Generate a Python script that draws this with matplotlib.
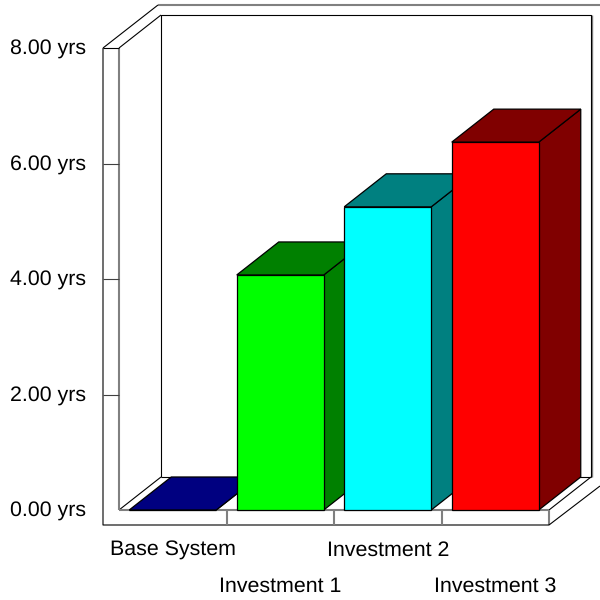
import matplotlib
matplotlib.use('Agg')
import matplotlib.pyplot as plt
from matplotlib.patches import Polygon

categories = ['Base System', 'Investment 1', 'Investment 2', 'Investment 3']
values = [0.0, 4.07, 5.25, 6.37]
front_colors = ['#000080', '#00ff00', '#00ffff', '#ff0000']
shade_colors = ['#000080', '#008000', '#008080', '#800000']
y_ticks = [0, 2, 4, 6, 8]

PX_X = 107.5   # pixels per category
PX_Y = 57.75   # pixels per year
DX = 42 / PX_X
DY = 33 / PX_Y
BAR_W = 87 / PX_X
GREY = '#808080'

plt.rcParams['font.family'] = ['Liberation Sans', 'DejaVu Sans']
plt.rcParams['text.hinting'] = 'no_hinting'

fig = plt.figure(figsize=(6, 6), dpi=100)
ax = fig.add_axes([0, 0, 1, 1])
ax.set_xlim(-119 / PX_X, 481 / PX_X)
ax.set_ylim(-90 / PX_Y, 510 / PX_Y)
ax.axis('off')


def px(dx):
    return dx / PX_X


def py(dy):
    return dy / PX_Y


def line(xs, ys, color='black', lw=0.8):
    ax.plot(xs, ys, color=color, lw=lw, solid_capstyle='butt', zorder=1)


n = len(categories)
ymax = y_ticks[-1]
pad_x = px(16)
pad_y = py(15)

# back wall, with a grey shadow down its right edge
line([n + DX + px(1), n + DX + px(1)], [DY, ymax + DY], color=GREY, lw=1.0)
line([DX, DX, n + DX, n + DX], [DY, ymax + DY, ymax + DY, DY])
line([DX, n + DX], [DY, DY])
line([0, DX], [ymax, ymax + DY])
line([0, DX], [0, DY])
line([n, n + DX], [0, DY])

# grey edges of the wall and floor slabs
line([0, 0], [0, ymax], color=GREY, lw=1.5)
line([0, n], [0, 0], color=GREY, lw=1.5)
line([n, n], [0, -pad_y], color=GREY, lw=1.5)
line([px(39), n + DX + px(9)], [ymax + py(43), ymax + py(43)], color=GREY, lw=1.5)

# outer outline
line([-pad_x, -pad_x, n, n + px(51)],
     [ymax, -pad_y, -pad_y, -pad_y + py(39)])
line([-pad_x, 0], [ymax, ymax])
line([-pad_x, px(39)], [ymax, ymax + py(43)])

for t in y_ticks:
    if t not in (0, ymax):
        line([-pad_x, 0], [t, t], color='#404040', lw=0.8)
    ax.text(-px(33), t - py(7), f'{t:.2f} yrs', ha='right', va='baseline',
            fontsize=15.4)

for i in range(1, n):
    line([i, i], [0, -pad_y], color=GREY, lw=1.5)

# bars: front face, top and side
for i, (name, v) in enumerate(zip(categories, values)):
    x0 = i + 0.5 - BAR_W / 2
    x1 = x0 + BAR_W
    front = [(x0, 0), (x1, 0), (x1, v), (x0, v)]
    top = [(x0, v), (x1, v), (x1 + DX, v + DY), (x0 + DX, v + DY)]
    side = [(x1, 0), (x1 + DX, DY), (x1 + DX, v + DY), (x1, v)]
    for pts, col in ((side, shade_colors[i]), (top, shade_colors[i]),
                     (front, front_colors[i])):
        ax.add_patch(Polygon(pts, closed=True, facecolor=col,
                             edgecolor='black', lw=0.9, zorder=3 + i))
    # labels sit on two staggered rows
    row = py(46) if i % 2 == 0 else py(82)
    ax.text(i + 0.5, -row, name, ha='center', va='baseline', fontsize=15.4)

fig.savefig('out.png', dpi=100)
